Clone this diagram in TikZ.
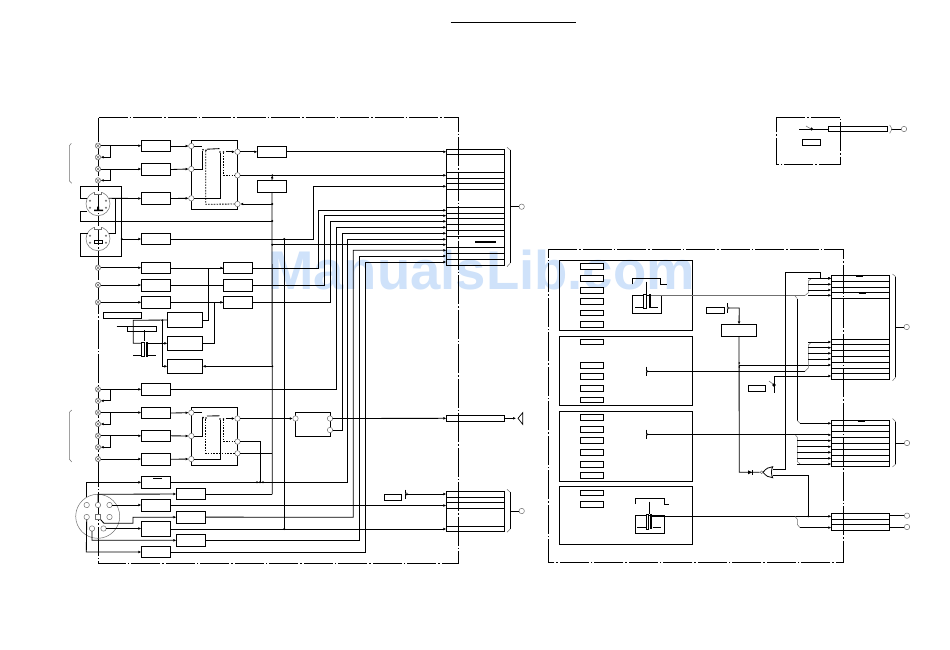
\documentclass[tikz,border=0pt]{standalone}
\usepackage{fontspec}
\setmainfont{Liberation Sans}
\usetikzlibrary{arrows.meta,calc}
\definecolor{wmark}{HTML}{CFE2FA}
\definecolor{pinc}{HTML}{707070}
\tikzset{
  wire/.style={line width=0.85pt,black},
  arr/.style={wire,-{Latex[length=3pt,width=2.8pt]}},
  fan/.style={line width=0.5pt,color=pinc},
  dashw/.style={line width=0.85pt,dash pattern=on 1.6pt off 1.2pt},
  frameline/.style={line width=0.85pt,dash pattern=on 29pt off 2pt on 1.5pt off 2pt},
  bxs/.style={draw,line width=0.9pt,fill=white,rectangle,inner sep=0pt,outer sep=0pt},
  blk/.style={draw,line width=0.85pt,rectangle,inner sep=0pt,outer sep=0pt},
  pinn/.style={draw=pinc,line width=0.5pt,fill=white,circle,minimum size=5.4pt,inner sep=0pt,outer sep=0pt},
  din/.style={draw=pinc,line width=0.5pt,circle,inner sep=0pt,outer sep=0pt},
  obar/.style={line width=1.1pt},
  gatew/.style={line width=0.8pt,fill=white}
}
\newcommand\bx[5]{\node[bxs,minimum width={(#4-#2)*1pt},minimum height={(#5-#3)*1pt}] (#1) at ({(#2+#4)/2},{(#3+#5)/2}) {};}
\newcommand\blkn[5]{\node[blk,minimum width={(#4-#2)*1pt},minimum height={(#5-#3)*1pt}] (#1) at ({(#2+#4)/2},{(#3+#5)/2}) {};}
\newcommand\pinat[3]{\node[pinn] (#1) at (#2,#3) {};}
\newcommand\termat[3]{\node[pinn] (#1) at (#2,#3) {};\draw[pinc,line width=0.5pt] (#1.north west)--(#1.south east) (#1.north east)--(#1.south west);}
\newcommand\dotat[2]{\fill (#1,#2) circle (1.1pt);}
\begin{document}
\begin{tikzpicture}[x=1pt,y=-1pt]
\useasboundingbox (0,0) rectangle (950,649);
\fill[white] (0,0) rectangle (950,649);
\node[text=wmark,font=\bfseries\fontsize{54.5}{60}\selectfont,inner sep=0pt] (wm) at (481.5,270.5) {ManualsLib.com};
% title rule
\coordinate (tl1) at (450.5,22); \coordinate (tl2) at (576,22);
\draw[line width=0.7pt] (tl1)--(tl2);
% ============ LEFT PANEL ============
% blocks
\blkn{tlb}{446.3}{149.3}{504.7}{265.3}
\blkn{spb}{446.3}{415.3}{504.7}{421.3}
\blkn{lob}{446.3}{491.3}{504.7}{531.7}
\foreach \y in {154.3,172.3,178.3,183.3,189.3,207.3,213,218.3,224.3,230.3,236.3,247.7,253.3,259.3}
  \draw[wire] (tlb.west |- 0,\y) -- (tlb.east |- 0,\y);
\foreach \y in {497.3,502.3,508.3,526.3}
  \draw[wire] (lob.west |- 0,\y) -- (lob.east |- 0,\y);
\draw[obar] (475,242) -- (496,242);
% frame
\draw[frameline] (98.5,117.5) -- (458.5,117.5) -- (458.5,563) -- (98.5,563) -- cycle;
% terminals
\termat{t1}{98}{145.7}\termat{t2}{98}{157.2}\termat{t3}{98}{169}\termat{t4}{98}{180.4}
\termat{t5}{98}{267.7}\termat{t6}{98}{285}\termat{t7}{98}{302.3}
\termat{t8}{98}{389.3}\termat{t9}{98}{400.8}\termat{t10}{98}{412.5}\termat{t11}{98}{424}
\termat{t12}{98}{435.8}\termat{t13}{98}{447.2}\termat{t14}{98}{459}
% column of amps
\bx{a1}{141.3}{140.3}{170.7}{151.7}
\bx{a2}{141.3}{163.3}{170.7}{175.7}
\bx{a3}{141.3}{192.3}{170.7}{204.7}
\bx{a4}{141.3}{233.3}{170.7}{244.7}
\bx{a5}{141.3}{262.3}{170.7}{273.7}
\bx{a6}{141.3}{279.3}{170.7}{291.7}
\bx{a7}{141.3}{296.3}{170.7}{308.3}
\bx{a8}{141.3}{383.3}{170.7}{395.3}
\bx{a9}{141.3}{407.3}{170.7}{418.7}
\bx{a10}{141.3}{430.3}{170.7}{441.3}
\bx{a11}{141.3}{453.3}{170.7}{465.3}
\bx{a12}{141.3}{476.3}{170.7}{488.3}
\bx{a13}{141.3}{499.3}{170.7}{511.7}
\bx{a14}{141.3}{521.3}{170.7}{536.7}
\bx{a15}{141.3}{546.3}{170.7}{557.7}
\draw[obar,line width=0.8pt] (153,478.2)--(162,478.2);
\bx{c1}{176.3}{488.3}{205.7}{499.7}
\bx{c2}{176.3}{511.3}{205.7}{523}
\bx{c3}{176.3}{534.3}{205.7}{546.3}
\bx{d1}{223.3}{262.3}{252.7}{273.7}
\bx{d2}{223.3}{279.3}{252.7}{291.7}
\bx{d3}{223.3}{296.3}{252.7}{308.3}
\bx{e1}{167.3}{312.3}{202.7}{327.7}
\bx{e2}{167.3}{336.3}{202.7}{350.3}
\bx{e3}{167.3}{359.3}{202.7}{373.3}
\bx{lab1}{103.3}{312.3}{141.7}{318.3}
\bx{b8}{257.3}{146.3}{286.7}{157.3}
\bx{b9}{257.3}{180.3}{286.7}{192.3}
\bx{sw1}{191.3}{140.3}{237.7}{209.3}
\bx{sw2}{191.3}{407.3}{237.7}{465.3}
\bx{mx}{295.3}{412.3}{330.7}{436.7}
% switch pins
\pinat{sl1}{191.3}{146}\pinat{sl2}{191.3}{169}\pinat{sl3}{191.3}{198.3}
\pinat{sr1}{237.5}{151.8}\pinat{sr2}{237.5}{175.3}\pinat{sr3}{237.5}{204}
\pinat{ql1}{191.3}{412.7}\pinat{ql2}{191.3}{436}\pinat{ql3}{191.3}{459}
\pinat{qr1}{237.5}{418.5}\pinat{qr2}{237.5}{441.6}\pinat{qr3}{237.5}{453.3}
\pinat{ml}{295.5}{418.5}\pinat{mr1}{330}{418.5}\pinat{mr2}{330}{430}
% terminal links
\draw[arr] (t1) -- (t1 -| a1.west);
\draw[arr] (110.3,145.7) -- (110.3,157.2) -- (t2.east);
\draw[arr] (t3) -- (t3 -| a2.west);
\draw[arr] (110.3,169) -- (110.3,180.4) -- (t4.east);
\draw[arr] (t5) -- (t5 -| a5.west);
\draw[arr] (t6) -- (t6 -| a6.west);
\draw[arr] (t7) -- (t7 -| a7.west);
\draw[arr] (t8) -- (t8 -| a8.west);
\draw[arr] (110.3,389.3) -- (110.3,400.8) -- (t9.east);
\draw[arr] (t10) -- (t10 -| a9.west);
\draw[arr] (110.3,412.5) -- (110.3,424) -- (t11.east);
\draw[arr] (t12) -- (t12 -| a10.west);
\draw[arr] (110.3,435.8) -- (110.3,447.2) -- (t13.east);
\draw[arr] (t14) -- (t14 -| a11.west);
% into switches
\draw[arr] (a1.east) -- (sl1.west);
\draw[arr] (a2.east) -- (sl2.west);
\draw[arr] (a3.east) -- (sl3.west);
\draw[arr] (a9.east) -- (ql1.west);
\draw[arr] (a10.east) -- (ql2.west);
\draw[arr] (a11.east) -- (ql3.west);
% upper switch inside
\draw[wire] (sl1.east) -- (202,146);
\draw[wire] (sl2.east) -- (202.3,169) -- (202.3,150.7);
\draw[wire] (207,149.2) -- (219.5,148.6);
\draw[wire] (220,153) -- (220,198.3) -- (sl3.east);
\draw[dashw] (205.7,150.7) -- (205.7,204.3) -- (sr3.west);
\draw[dashw] (223.3,152.7) -- (223.3,175.3) -- (sr2.west);
\draw[arr] (225.7,151.8) -- (sr1.west);
\fill (206,150.2) circle (0.9pt) (203,149.8) circle (0.9pt) (220,152) circle (0.9pt) (223.5,152) circle (0.9pt);
% lower switch inside
\draw[wire] (ql1.east) -- (201.7,412.7);
\draw[wire] (ql2.east) -- (202.3,436) -- (202.3,418.3);
\draw[wire] (207,416) -- (219.5,415.8);
\draw[wire] (220,420) -- (220,459) -- (ql3.east);
\draw[dashw] (205.7,419) -- (205.7,453.3) -- (qr3.west);
\draw[dashw] (223.3,419) -- (223.3,441.6) -- (qr2.west);
\draw[arr] (225.7,418.5) -- (qr1.west);
\fill (206,418) circle (0.9pt) (203,417.6) circle (0.9pt) (220,419) circle (0.9pt) (223.5,419) circle (0.9pt);
% switch outputs
\draw[arr] (sr1.east) -- (sr1 -| b8.west);
\draw[arr] (b8.east) -- (b8.east -| tlb.west);
\draw[arr] (sr2.east) -- (sr2 -| tlb.west);
% main bus x=272
\coordinate (v272b) at (272.3,494.3);
\draw[wire] (b9.south) -- (v272b);
\draw[arr] (b9.north) -- (272.3,175.3);
\draw[arr] (272.3,204) -- (sr3.east);
\draw[wire] (c1.east) -- (c1.east -| v272b);
\draw[arr] (272.3,366.3) -- (e3.east);
\draw[arr] (272.3,244.7) -- (272.3,244.7 -| tlb.west);
\draw[wire] (80.3,221) -- (272.3,221);
\draw[wire] (qr3.east) -- (qr3 -| v272b);
\dotat{272.3}{175.3}\dotat{272.3}{204}\dotat{272.3}{221}\dotat{272.3}{244.7}\dotat{272.3}{366.3}
% a4 to block
\draw[arr] (a4.east) -- (313.3,239) -- (313.3,186.3) -- (313.3,186.3 -| tlb.west);
% x=284
\draw[wire] (284.3,239) -- (284.3,529);
\dotat{284.3}{239}\dotat{284.3}{529}
% bus
\draw[wire] (a5.east) -- (d1.west);
\draw[arr] (208.3,268) -- (d1.west);
\draw[wire] (a6.east) -- (d2.west);
\draw[arr] (214.3,302.3) -- (d3.west);
\draw[wire] (a7.east) -- (d3.west);
\draw[wire] (e1.east) -- (208.3,320) -- (208.3,268);
\draw[wire] (e2.east) -- (214.3,343.3) -- (214.3,302.3);
\draw[arr] (d1.east) -- (318.3,268) -- (318.3,210.3) -- (318.3,210.3 -| tlb.west);
\draw[arr] (d2.east) -- (324.3,285.5) -- (324.3,215.7) -- (324.3,215.7 -| tlb.west);
\draw[arr] (d3.east) -- (330.3,302.3) -- (330.3,221.3) -- (330.3,221.3 -| tlb.west);
\draw[arr] (a8.east) -- (336.3,389.3) -- (336.3,227.3) -- (336.3,227.3 -| tlb.west);
\draw[arr] (mr2.east) -- (342.3,430) -- (342.3,233.3) -- (342.3,233.3 -| tlb.west);
\draw[arr] (a12.east) -- (347.3,482.3) -- (347.3,239.3) -- (347.3,239.3 -| tlb.west);
\draw[arr] (c2.east) -- (353.3,517.2) -- (353.3,250.3) -- (353.3,250.3 -| tlb.west);
\draw[arr] (c3.east) -- (359.3,540.3) -- (359.3,256) -- (359.3,256 -| tlb.west);
\draw[arr] (a15.east) -- (365.3,552) -- (365.3,262) -- (365.3,262 -| tlb.west);
% lower switch to bus
\draw[arr] (qr1.east) -- (ml.west);
\draw[wire] (qr2.east) -- (260,441.6) -- (260,482.3);
\dotat{260}{482.3}\dotat{257}{482.3}\dotat{263}{482.3}
\draw[arr] (mr1.east) -- (spb.west);
% transformer of left panel
\coordinate (lt1) at (116.7,326);
\draw[wire] (lt1) -- (156.7,326) -- (156.7,331.7) -- (127.3,331.7) -- (127.3,326);
\draw[wire] (144.3,330) -- (144.3,341);
\node[bxs,minimum width=3pt,minimum height=14.4pt] (lcap) at (142.5,349.5) {};
\fill (146,342.3) rectangle (147.5,356.7);
\draw[wire] (133,355.3) -- (lcap.west |- 0,355.3);
\draw[wire] (147.5,355.3) -- (156,355.3);
\draw[wire] (lcap.west |- 0,343.3) -- (133.3,343.3) -- (133.3,320.3) -- (e1.west);
\draw[arr] (147.5,343.3) -- (e2.west);
\draw[arr] (162.3,320.3) -- (162.3,366.3) -- (e3.west);
\dotat{162.3}{320.3}\dotat{162.3}{343.3}
% Y connectors
\node[din,minimum size=24pt] (din1) at (98,203.7) {};
\node[din,minimum size=24pt] (din2) at (98,238.7) {};
\draw[wire] (86.5,198.7) -- (80.3,198.7) -- (80.3,186.3) -- (121.7,186.3) -- (121.7,256.3) -- (80.3,256.3) -- (80.3,233) -- (88,233);
\draw[wire] (87,211.3) -- (80.3,211.3) -- (80.3,221);
\draw[arr] (109,198.3) -- (a3.west);
\draw[wire] (115,198.3) -- (115,233) -- (109,233);
\draw[arr] (121.7,239) -- (a4.west);
\dotat{121.7}{239}
\fill (94,209.5) rectangle (103,211) (97,206.5) rectangle (99,211);
\draw[line width=0.7pt] (94,243)--(94,240.5)--(102,240.5)--(102,243)--cycle;
\foreach \cx/\cy in {98/203.7,98/238.7} {
  \fill[white] (\cx-4,\cy-12.5) rectangle (\cx+4,\cy-9.5);
  \draw[pinc,line width=0.5pt] (\cx-3.5,\cy-11.5) -- (\cx-3.5,\cy-9.5) -- (\cx+3.5,\cy-9.5) -- (\cx+3.5,\cy-11.5);
  \draw[pinc,line width=0.5pt] (\cx-8,\cy-3) circle (0.8pt) (\cx+8,\cy-3) circle (0.8pt) (\cx-8,\cy+4) circle (0.8pt) (\cx+8,\cy+4) circle (0.8pt);
}
% 8-pin DIN
\node[din,minimum size=44pt] (din3) at (97.7,516.3) {};
\pinat{p1}{86.7}{505}\pinat{p2}{98}{505}\pinat{p3}{109.5}{505}
\pinat{p4}{86.7}{517}\pinat{p6}{109.5}{517}\pinat{p7}{92}{528.5}\pinat{p8}{103.5}{528.5}
\node[draw=pinc,line width=0.5pt,fill=white,minimum size=5pt,inner sep=0pt] (p5) at (98,517) {};
\draw[arr] (86.3,482.3) -- (86.3,482.3 -| a12.west);
\draw[wire] (86.3,482.3) -- (86.3,497);
\draw[arr] (p4.south) -- (86.3,552) -- (a15.west);
\draw[arr] (p2.north) -- (98,494.3) -- (c1.west);
\draw[arr] (p3.east) -- (p3 -| a13.west);
\draw[arr] (p5.south east) -- (104,523.3) -- (133,523.3) -- (133,517.3) -- (c2.west);
\draw[arr] (p8.east) -- (p8 -| a14.west);
\draw[arr] (p7.south) -- (92,540.2) -- (c3.west);
% to lower block
\draw[arr] (a13.east) -- (a13.east -| lob.west);
\draw[arr] (a14.east) -- (a14.east -| lob.west);
\bx{lab2}{384.3}{494.3}{401.3}{500.7}
\coordinate (sw3) at (405.3,494);
\draw[line width=0.9pt] (405.3,489.5) -- (405.3,499);
\fill[pinc] (406.7,494) circle (1.6pt);
\draw[arr] (sw3) -- (sw3 -| lob.west);
% right of blocks
\node[pinn] (o1) at (521.7,206.7) {};
\node[pinn] (o2) at (521.7,511) {};
\draw[wire] (o1.west) -- (510.3,206.7);
\draw[wire] (o2.west) -- (510.3,511);
\draw[wire] (510.3,150) -- (510.3,263);
\draw[wire] (510.3,492.3) -- (510.3,529);
\draw[fan] (507,147.3) -- (510.3,150) (510.3,263) -- (507,266.7) (507,489.3) -- (510.3,492.3) (510.3,529) -- (507,532.3);
% speaker
\coordinate (spk) at (516,418.3);
\draw[arr] (spb.east) -- (spk);
\draw[line width=0.7pt] (518,418.3) -- (522.7,412.7) -- (522.7,424.3) -- cycle;
% left braces
\draw[fan] (71.3,143.3) -- (69.3,146) -- (69.3,180.7) -- (71.7,183.3);
\draw[fan] (71.7,410) -- (69.3,412.3) -- (69.3,459) -- (71.7,462);
% ============ TOP RIGHT PANEL ============
\draw[frameline] (776.3,117.3) -- (840.3,117.3) -- (840.3,164.3) -- (776.3,164.3) -- cycle;
\bx{lab3}{802.3}{139.3}{820.7}{145.3}
\blkn{tsb}{828.3}{126.3}{887.7}{131.7}
\coordinate (tsl) at (799.3,129);
\draw[wire] (tsl) -- (tsb.west);
\node[pinn] (o3) at (904,129) {};
\draw[wire] (o3.west) -- (891,129);
\draw[fan] (889.7,125) -- (892,129) -- (889.7,133.3);
\fill (811.5,129) circle (1.7pt);
\draw[pinc,line width=0.6pt] (806,126) -- (811,129);
% ============ BIG RIGHT PANEL ============
\blkn{r1}{831.3}{275.3}{889.7}{379.3}
\blkn{r2}{831.3}{420.3}{889.7}{466.7}
\blkn{r3}{831.3}{513.3}{889.7}{530.3}
\foreach \y in {281.3,287,292.3,298.3,339.3,344.3,350.3,356.3,362.3,368.3,373.7}
  \draw[wire] (r1.west |- 0,\y) -- (r1.east |- 0,\y);
\foreach \y in {425.3,431.3,437.3,443.3,449.3,455.3,461.3}
  \draw[wire] (r2.west |- 0,\y) -- (r2.east |- 0,\y);
\foreach \y in {519.3,524.3}
  \draw[wire] (r3.west |- 0,\y) -- (r3.east |- 0,\y);
\draw[obar] (856,276.2)--(863,276.2) (856,287.5)--(863,287.5) (858.5,293.3)--(865.5,293.3) (857.7,421.2)--(865,421.2);
\draw[frameline] (548.3,249.3) -- (843.3,249.3) -- (843.3,562.3) -- (548.3,562.3) -- cycle;
% inner panels
\node[blk,minimum width=133.4pt,minimum height=70pt] (pa) at (626,295.3) {};
\node[blk,minimum width=133.4pt,minimum height=68.7pt] (pb) at (626,370.65) {};
\node[blk,minimum width=133.4pt,minimum height=70pt] (pc) at (626,446.3) {};
\node[blk,minimum width=133.4pt,minimum height=58pt] (pd) at (626,515.3) {};
\bx{k1}{580.3}{263.3}{603.7}{269}
\bx{k2}{580.3}{275.3}{603.7}{281.7}
\bx{k3}{580.3}{287.3}{603.7}{293}
\bx{k4}{580.3}{298.3}{603.7}{304.7}
\bx{k5}{580.3}{310}{603.7}{315.7}
\bx{k6}{580.3}{321.7}{603.7}{327.7}
\bx{k7}{580.3}{339}{603.7}{344.7}
\bx{k8}{580.3}{362.3}{603.7}{368.7}
\bx{k9}{580.3}{373.3}{603.7}{379.7}
\bx{k10}{580.3}{385.3}{603.7}{391.7}
\bx{k11}{580.3}{397.3}{603.7}{402.7}
\bx{k12}{580.3}{414.3}{603.7}{420.7}
\bx{k13}{580.3}{426.3}{603.7}{432}
\bx{k14}{580.3}{437.7}{603.7}{443.7}
\bx{k15}{580.3}{449.7}{603.7}{455.7}
\bx{k16}{580.3}{461.3}{603.7}{467}
\bx{k17}{580.3}{472.3}{603.7}{478.7}
\bx{k18}{580.3}{490.3}{603.7}{495.7}
\bx{k19}{580.3}{501.3}{603.7}{507.7}
\bx{cpu}{721.3}{324.3}{756.7}{336.7}
\bx{lab4}{706.3}{307.3}{724}{313.3}
\bx{lab5}{748.3}{385.3}{765.7}{391.7}
% panel A transformer
\draw[wire] (632.3,284.3) -- (632.3,278.3) -- (660.7,278.3) -- (660.7,284.3) -- (666.7,284.3);
\node[blk,minimum width=29.4pt,minimum height=18.3pt] (ta) at (647,304.15) {};
\draw[wire] (646.7,281.7) -- (646.7,294);
\node[bxs,minimum width=2.7pt,minimum height=14.3pt] (tacap) at (644.7,301.2) {};
\fill (648.7,294) rectangle (650.7,308.3);
\draw[wire] (635,307) -- (643,307) (651,307) -- (658,307);
\draw[line width=0.65pt,draw=pinc] (650.7,295.5) -- (805,295.5);
% panel B, C symbols
\coordinate (sb) at (647.2,371.3); \coordinate (sc) at (647.2,434.3);
\draw[line width=0.8pt] (646.7,366.7) -- (646.7,376) (646.7,429.7) -- (646.7,439);
\fill[pinc] (647.4,371.3) circle (1.2pt) (647.4,434.3) circle (1.2pt);
\draw[wire] (sb) -- (805,371.3);
\draw[wire] (sc) -- (795,434.3);
% panel D transformer
\draw[wire] (635,504) -- (635,498.3) -- (664.7,498.3) -- (664.7,504) -- (669.3,504);
\node[blk,minimum width=29.7pt,minimum height=18.3pt] (td) at (649.85,524.15) {};
\draw[wire] (649.3,501.7) -- (649.3,514);
\node[bxs,minimum width=1.8pt,minimum height=15.3pt] (tdcap) at (647.5,521.7) {};
\fill (650,514) rectangle (652,529.3);
\draw[wire] (637,527.5) -- (646,527.5) (652.5,527.5) -- (661,527.5);
\coordinate (sd) at (652,516.3);
\draw[wire] (sd) -- (795,516.3);
% cpu wires
\coordinate (sy4) at (728,308);
\draw[line width=0.9pt] (727,303.3) -- (727,312.7);
\fill[pinc] (728,308) circle (1.5pt);
\draw[arr] (sy4) -- (739.3,308) -- (cpu.north);
\coordinate (gi) at (759.5,472.3);
\draw[wire] (cpu.south) -- (739.3,472.3) -- (gi);
\draw[arr] (739.3,365) -- (739.3,365 -| r1.west);
\fill (739.3,363) circle (0.9pt) (739.3,367) circle (0.9pt);
\fill (748,470.3) -- (752,472.3) -- (748,474.3) -- cycle;
\fill (752,470) rectangle (752.9,474.6);
% gate
\draw[gatew] (763,472.3) .. controls (766,468.5) and (769,466.8) .. (772.7,466.7) .. controls (771,470) and (771,474.5) .. (772.7,477.7) .. controls (769,477.7) and (766,476) .. (763,472.3) -- cycle;
\draw[pinc,line width=0.5pt] (761.6,472.3) circle (1.4pt);
% symbol 5
\coordinate (sy5) at (774,376);
\draw[line width=0.9pt] (774,376) -- (774,393);
\fill (774,385) circle (1.8pt);
\draw[pinc,line width=0.6pt] (769,381) -- (773,384);
\draw[arr] (sy5) -- (sy5 -| r1.west);
% long bus x=785
\coordinate (gq) at (772.7,469.3);
\draw[arr] (gq) -- (785.3,469.3) -- (785.3,272.3) -- (820.7,272.3) -- (820.7,278.3) -- (820.7,278.3 -| r1.west);
% upper fan
\draw[fan] (805,295.5) -- (808.3,292.7) -- (808.3,281) -- (811.7,278.3);
\foreach \y in {278.3,284.3,290,295.3} \draw[arr] (808.3,\y) -- (808.3,\y -| r1.west);
% lower fan
\draw[fan] (805,371.3) -- (808.3,368) -- (808.3,345) -- (811.7,342);
\foreach \y in {342,347.7,353.3,359} \draw[arr] (808.3,\y) -- (808.3,\y -| r1.west);
% x=797 bus
\draw[fan] (795,296) -- (797.3,298.5);
\draw[wire] (797.3,298.5) -- (797.3,420.5);
\draw[fan] (797.3,420.5) -- (800,423.3);
\draw[arr] (800,423.3) -- (800,423.3 -| r2.west);
% block 3 fan
\draw[fan] (795,434.3) -- (797.3,437.3) -- (797.3,461.5) -- (800,464);
\draw[arr] (795,434.9) -- (795,434.9 -| r2.west);
\foreach \y in {440.7,446.7,452.3,458.3,464} \draw[arr] (797.3,\y) -- (797.3,\y -| r2.west);
% block 4
\draw[arr] (795,516.3) -- (795,516.3 -| r3.west);
\draw[fan] (795,516.3) -- (797.3,519.3) -- (797.3,524.5) -- (800,527.6);
\draw[arr] (800,527.6) -- (800,527.6 -| r3.west);
\coordinate (gp) at (772.7,475.3);
\draw[wire] (gp) -- (808.3,475.3) -- (808.3,516.3);
\dotat{808.3}{516.3}
% outputs
\node[pinn] (o4) at (906.7,327) {};
\node[pinn] (o5) at (907,443) {};
\node[pinn] (o6) at (907,515.7) {};
\node[pinn] (o7) at (907,527) {};
\draw[wire] (o4.west) -- (895.7,327);
\draw[wire] (o5.west) -- (895.7,443);
\draw[wire] (o6.west) -- (o6 -| r3.east);
\draw[wire] (o7.west) -- (o7 -| r3.east);
\draw[wire] (895.7,276.7) -- (895.7,377.3);
\draw[wire] (895.7,421.7) -- (895.7,464);
\draw[fan] (892.5,274) -- (895.7,276.7) (895.7,377.3) -- (892.5,380.7) (892.5,418.5) -- (895.7,421.7) (895.7,464) -- (892.5,467);
\end{tikzpicture}
\end{document}
